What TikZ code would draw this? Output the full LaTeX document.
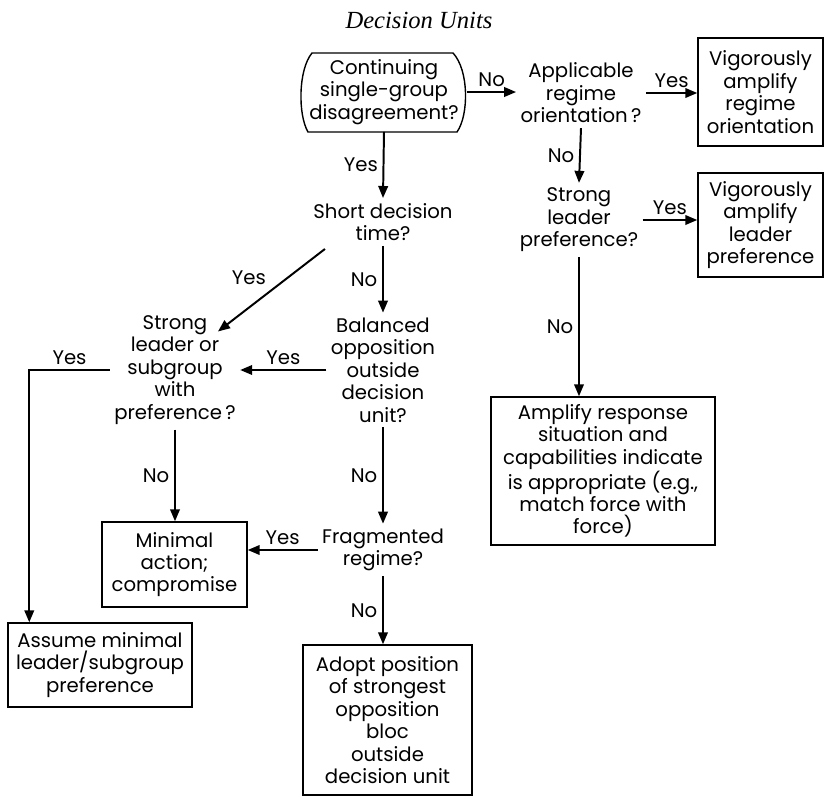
\documentclass[tikz,border=0pt]{standalone}
\usepackage{fontspec}
\setmainfont{Poppins}
\newfontfamily\titlefont{Liberation Serif}
\usetikzlibrary{calc,positioning,arrows.meta}

\begin{document}
\begin{tikzpicture}[x=0.025cm, y=0.025cm,
    every node/.style={font=\fontsize{14}{15.94}\selectfont},
    ques/.style={align=center, inner xsep=3pt, inner ysep=3.5pt},
    act/.style={draw, line width=1pt, align=center, inner sep=0pt},
    flow/.style={-{Triangle[length=3mm,width=2.4mm]}, line width=1.4pt}]
    \useasboundingbox (0,0) rectangle (825,-796);

    \node[font=\titlefont\itshape\fontsize{17.5}{20}\selectfont] (title) at (419,-20) {Decision Units};

    \draw[line width=1pt] (312,-53) -- (453,-53) .. controls (469,-70) and (469,-115) .. (457,-132)
        -- (308,-132) .. controls (298,-115) and (298,-70) .. cycle;
    \node[ques, minimum width=4.15cm, minimum height=1.975cm, inner sep=0pt] (start) at (384,-92) {Continuing\\single-group\\disagreement?};

    \node[ques] (appl) at (581,-93) {Applicable\\regime\\orientation\,?};
    \node[act, minimum width=3.125cm, minimum height=2.7cm] (regbox) at (760.5,-92) {Vigorously\\amplify\\regime\\orientation};
    \node[ques] (strongl) at (579,-220) {Strong\\leader\\preference?};
    \node[act, minimum width=3.125cm, minimum height=2.6cm] (leadbox) at (760.5,-225) {Vigorously\\amplify\\leader\\preference};
    \node[act, minimum width=5.6cm, minimum height=3.7cm] (ampbox) at (603,-471) {Amplify response\\situation and\\capabilities indicate\\is appropriate (e.g.,\\match force with\\force)};

    \node[ques] (short) at (383,-222) {Short decision\\time?};
    \node[ques] (balanced) at (383,-370) {Balanced\\opposition\\outside\\decision\\unit?};
    \node[ques] (strongsub) at (175,-370) {Strong\\leader or\\subgroup\\with\\preference\,?};
    \node[act, minimum width=3.625cm, minimum height=2.125cm] (minbox) at (174.5,-564.5) {Minimal\\action;\\compromise};
    \node[ques] (frag) at (383,-550) {Fragmented\\regime?};
    \node[act, minimum width=4.6cm, minimum height=2.1cm] (assume) at (100,-665) {Assume minimal\\leader/subgroup\\preference};
    \node[act, minimum width=4.225cm, minimum height=3.75cm] (adopt) at (387.5,-720) {Adopt position\\of strongest\\opposition\\bloc\\outside\\decision unit};

    \draw[flow] (start.east) -- node[above] {No} (start.east -| appl.west);
    \draw[flow] (start.south) -- node[left] {Yes} (short.north);
    \draw[flow] (appl.east) -- node[above] {Yes} (appl.east -| regbox.west);
    \draw[flow] (appl.south) -- node[left] {No} (strongl.north);
    \draw[flow] (strongl.east) -- node[above] {Yes} (strongl.east -| leadbox.west);
    \draw[flow] (strongl.south) -- node[left] {No} (strongl.south |- ampbox.north);
    \draw[flow] ($(short.south west)+(16,-3)$) -- node[above left] {Yes} ($(strongsub.north)+(43,-21)$);
    \draw[flow] (short.south) -- node[left] {No} (balanced.north);
    \draw[flow] (balanced.west) -- node[above] {Yes} (strongsub.east);
    \draw[flow] (strongsub.west) -| node[pos=0.25, above] {Yes} ($(assume.north west)+(22,0)$);
    \draw[flow] (strongsub.south) -- node[left] {No} (strongsub.south |- minbox.north);
    \draw[flow] (balanced.south) -- node[left] {No} (frag.north);
    \draw[flow] (frag.west) -- node[above] {Yes} (frag.west -| minbox.east);
    \draw[flow] (frag.south) -- node[left] {No} (frag.south |- adopt.north);
\end{tikzpicture}
\end{document}
